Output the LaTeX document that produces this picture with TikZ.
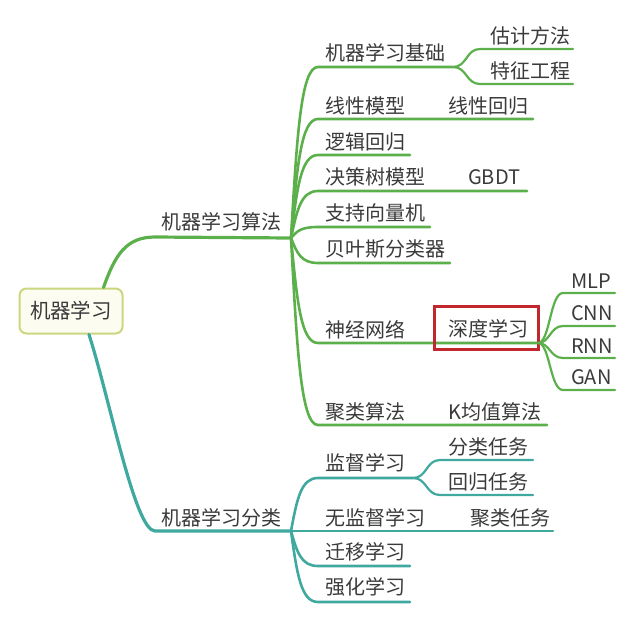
\documentclass[tikz,border=0pt]{standalone}
\usepackage{fontspec}
\newfontfamily\cjk{Noto Sans CJK SC}
\definecolor{gline}{HTML}{5CB04C}
\definecolor{tline}{HTML}{3FA89F}
\definecolor{txt}{HTML}{3A3A3A}
\definecolor{rbox}{HTML}{C1272D}
\definecolor{rootfill}{HTML}{FCFCF0}
\definecolor{rootdraw}{HTML}{CAD77F}
\begin{document}
\begin{tikzpicture}[x=1pt,y=-1pt,
  lbl/.style={anchor=west,inner sep=0pt,text=txt,font=\cjk\fontsize{20}{23}\selectfont},
  rootbox/.style={draw=rootdraw,fill=rootfill,line width=2pt,rounded corners=7pt,
    minimum width=103pt,minimum height=45pt,inner sep=0pt,text=txt,
    font=\cjk\fontsize{20.5}{23}\selectfont},
  redbox/.style={draw=rbox,line width=3pt},
  gmain/.style={draw=gline,line width=3.2pt,line cap=round},
  gsub/.style={draw=gline,line width=2.6pt,line cap=round},
  gleaf/.style={draw=gline,line width=2.2pt,line cap=round},
  tmain/.style={draw=tline,line width=3.2pt,line cap=round},
  tsub/.style={draw=tline,line width=2.6pt,line cap=round},
  tleaf/.style={draw=tline,line width=2.2pt,line cap=round}]
\useasboundingbox (0,0) rectangle (640,622);

% ---------- root ----------
\node[rootbox] (root) at (71,311) {机器学习};

% ---------- main branches ----------
\coordinate (H1) at (291,238);
\coordinate (H2) at (291,531);
\coordinate (m1s) at (155,237);
\coordinate (m2s) at (155,531);
\draw[gmain] ([xshift=-20pt]root.north east) .. controls (115,255) and (126,237) .. (m1s) -- (H1);
\draw[tmain] ([xshift=18pt]root.south) .. controls (110,400) and (135,531) .. (m2s) -- (H2);
\node[lbl] (alg) at (161,222) {机器学习算法};
\node[lbl] (cls) at (161,518) {机器学习分类};

% ---------- green children ----------
\coordinate (a1s) at (318,67);  \coordinate (a1e) at (453,67);
\coordinate (a2s) at (318,119); \coordinate (a2e) at (533,119);
\coordinate (a3s) at (318,155); \coordinate (a3e) at (410,155);
\coordinate (a4s) at (318,191); \coordinate (a4e) at (527,191);
\coordinate (a5s) at (318,227); \coordinate (a5e) at (430,227);
\coordinate (a6s) at (318,263); \coordinate (a6e) at (450,263);
\coordinate (a7s) at (318,343); \coordinate (a7e) at (538,343);
\coordinate (a8s) at (318,425); \coordinate (a8e) at (547,425);

\draw[gsub] (H1) .. controls (297,135) and (301,67)  .. (a1s) -- (a1e);
\draw[gsub] (H1) .. controls (297,167) and (301,119) .. (a2s) -- (a2e);
\draw[gsub] (H1) .. controls (297,188) and (301,155) .. (a3s) -- (a3e);
\draw[gsub] (H1) .. controls (297,210) and (301,191) .. (a4s) -- (a4e);
\draw[gsub] (H1) .. controls (297,231) and (301,227) .. (a5s) -- (a5e);
\draw[gsub] (H1) .. controls (297,253) and (301,263) .. (a6s) -- (a6e);
\draw[gsub] (H1) .. controls (297,301) and (301,343) .. (a7s) -- (a7e);
\draw[gsub] (H1) .. controls (297,350) and (301,425) .. (a8s) -- (a8e);

\node[lbl] (a1) at (325,53)  {机器学习基础};
\node[lbl] (a2) at (325,106) {线性模型};
\node[lbl] (a3) at (325,142) {逻辑回归};
\node[lbl] (a4) at (325,177) {决策树模型};
\node[lbl] (a5) at (325,213) {支持向量机};
\node[lbl] (a6) at (325,249) {贝叶斯分类器};
\node[lbl] (a7) at (325,330) {神经网络};
\node[lbl] (a8) at (325,412) {聚类算法};

\node[lbl] (a2x) at (448,106) {线性回归};
\node[lbl] (a4x) at (468,177) {GBDT};
\node[lbl] (a8x) at (448,412) {K均值算法};

% machine learning basics split
\coordinate (b1s) at (480,49);  \coordinate (b1e) at (573,49);
\coordinate (b2s) at (480,84);  \coordinate (b2e) at (573,84);
\draw[gleaf] (a1e) .. controls (467,67) and (466,49) .. (b1s) -- (b1e);
\draw[gleaf] (a1e) .. controls (467,67) and (466,84) .. (b2s) -- (b2e);
\node[lbl] (b1) at (490,36) {估计方法};
\node[lbl] (b2) at (490,71) {特征工程};

% deep learning
\node[redbox,minimum width=104pt,minimum height=43pt,inner sep=0pt] (dlbox) at (486,327.5) {};
\node[lbl] (dl) at (448,329) {深度学习};
\coordinate (c1s) at (563,293); \coordinate (c1e) at (615,293);
\coordinate (c2s) at (563,326); \coordinate (c2e) at (615,326);
\coordinate (c3s) at (563,358); \coordinate (c3e) at (615,358);
\coordinate (c4s) at (563,390); \coordinate (c4e) at (615,390);
\draw[gleaf] (a7e) .. controls (550,343) and (550,293) .. (c1s) -- (c1e);
\draw[gleaf] (a7e) .. controls (550,343) and (550,326) .. (c2s) -- (c2e);
\draw[gleaf] (a7e) .. controls (550,343) and (550,358) .. (c3s) -- (c3e);
\draw[gleaf] (a7e) .. controls (550,343) and (550,390) .. (c4s) -- (c4e);
\node[lbl] (c1) at (571,281) {MLP};
\node[lbl] (c2) at (571,313) {CNN};
\node[lbl] (c3) at (571,346) {RNN};
\node[lbl] (c4) at (571,377) {GAN};

% ---------- teal children ----------
\coordinate (d1s) at (318,478); \coordinate (d1e) at (413,478);
\coordinate (d2s) at (318,531); \coordinate (d2e) at (553,531);
\coordinate (d3s) at (318,566); \coordinate (d3e) at (410,566);
\coordinate (d4s) at (318,602); \coordinate (d4e) at (410,602);
\draw[tsub] (H2) .. controls (297,499) and (301,478) .. (d1s) -- (d1e);
\draw[tsub] (H2) -- (d2s) -- (d2e);
\draw[tsub] (H2) .. controls (297,552) and (301,566) .. (d3s) -- (d3e);
\draw[tsub] (H2) .. controls (297,574) and (301,602) .. (d4s) -- (d4e);
\node[lbl] (d1) at (325,463) {监督学习};
\node[lbl] (d2) at (325,518) {无监督学习};
\node[lbl] (d3) at (325,552) {迁移学习};
\node[lbl] (d4) at (325,587) {强化学习};
\node[lbl] (d2x) at (470,518) {聚类任务};

\coordinate (e1s) at (440,460); \coordinate (e1e) at (533,460);
\coordinate (e2s) at (440,495); \coordinate (e2e) at (533,495);
\draw[tleaf] (d1e) .. controls (427,478) and (426,460) .. (e1s) -- (e1e);
\draw[tleaf] (d1e) .. controls (427,478) and (426,495) .. (e2s) -- (e2e);
\node[lbl] (e1) at (448,447) {分类任务};
\node[lbl] (e2) at (448,482) {回归任务};
\end{tikzpicture}
\end{document}
